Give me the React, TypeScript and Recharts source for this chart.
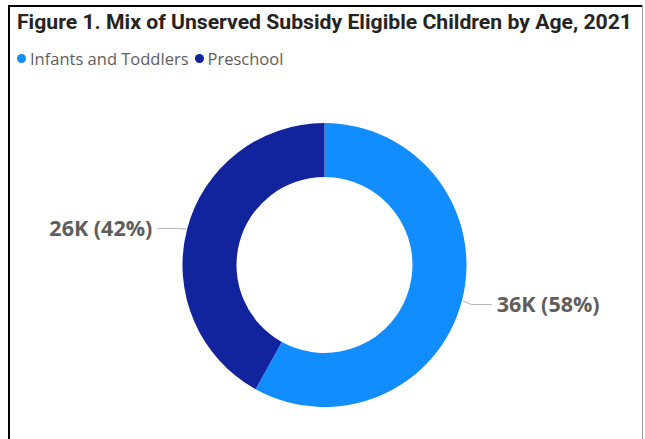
import { PieChart, Pie, Cell, Legend } from 'recharts';

const categories = ['Infants and Toddlers', 'Preschool'];
const values = [36000, 26000];
const colors = ['#118DFF', '#12239E'];

const data = categories.map((name, i) => ({ name, value: values[i], color: colors[i] }));
const total = values.reduce((s, v) => s + v, 0);

const RAD = Math.PI / 180;

interface LabelProps {
  cx: number;
  cy: number;
  midAngle: number;
  outerRadius: number;
  value: number;
}

function SliceLabel({ cx, cy, midAngle, outerRadius, value }: LabelProps) {
  const cos = Math.cos(-midAngle * RAD);
  const sin = Math.sin(-midAngle * RAD);
  const sx = cx + (outerRadius + 1) * cos;
  const sy = cy + (outerRadius + 1) * sin;
  const mx = cx + (outerRadius + 10) * cos;
  const my = cy + (outerRadius + 10) * sin + 1.5;
  const side = cos >= 0 ? 1 : -1;
  const ex = mx + side * 20;
  const ey = my;
  const pct = Math.round((value / total) * 100);
  return (
    <g>
      <path d={`M${sx},${sy}L${mx},${my}L${ex},${ey}`} stroke="#B3B0AD" strokeWidth={1} fill="none" />
      <text
        x={ex + side * 5}
        y={ey}
        dy="0.35em"
        textAnchor={side > 0 ? 'start' : 'end'}
        fill="#605E5C"
        fontSize={21.5}
        fontWeight={700}
        fontFamily="'Open Sans', sans-serif"
      >
        {`${Math.round(value / 1000)}K (${pct}%)`}
      </text>
    </g>
  );
}

function LegendContent() {
  return (
    <div style={{ display: 'flex', alignItems: 'center', fontFamily: "'Open Sans', sans-serif", fontSize: 16.5, color: '#605E5C' }}>
      {data.map((d) => (
        <div key={d.name} style={{ display: 'flex', alignItems: 'center', marginRight: 6 }}>
          <span style={{ width: 9, height: 9, borderRadius: '50%', background: d.color, display: 'inline-block', marginRight: 4 }} />
          <span>{d.name}</span>
        </div>
      ))}
    </div>
  );
}

export default function App() {
  return (
    <div style={{ position: 'absolute', left: 0, top: 0, width: 645, height: 439, background: '#fff', overflow: 'hidden' }}>
      <svg width={645} height={40} style={{ position: 'absolute', left: 0, top: 0 }}>
        <text
          x={17}
          y={29}
          textLength={615}
          lengthAdjust="spacingAndGlyphs"
          fontFamily="Roboto, sans-serif"
          fontWeight={700}
          fontSize={21}
          fill="#252423"
        >
          Figure 1. Mix of Unserved Subsidy Eligible Children by Age, 2021
        </text>
      </svg>
      <div style={{ position: 'absolute', left: 0, top: 0 }}>
        <PieChart width={645} height={439} margin={{ top: 0, right: 0, bottom: 0, left: 0 }}>
          <Legend
            content={<LegendContent />}
            wrapperStyle={{ position: 'absolute', left: 17, top: 47, width: 400 }}
          />
          <Pie
            data={data}
            dataKey="value"
            nameKey="name"
            cx={324.5}
            cy={265}
            innerRadius={88}
            outerRadius={142}
            startAngle={90}
            endAngle={-270}
            stroke="none"
            label={SliceLabel}
            labelLine={false}
            isAnimationActive={false}
          >
            {data.map((d) => (
              <Cell key={d.name} fill={d.color} />
            ))}
          </Pie>
        </PieChart>
      </div>
      <div style={{ position: 'absolute', left: 8, top: 5, width: 635, height: 2, background: '#000', zIndex: 5 }} />
      <div style={{ position: 'absolute', left: 8, top: 5, width: 2, height: 440, background: '#000', zIndex: 5 }} />
      <div style={{ position: 'absolute', left: 642, top: 5, width: 1, height: 440, background: '#999', zIndex: 5 }} />
    </div>
  );
}
